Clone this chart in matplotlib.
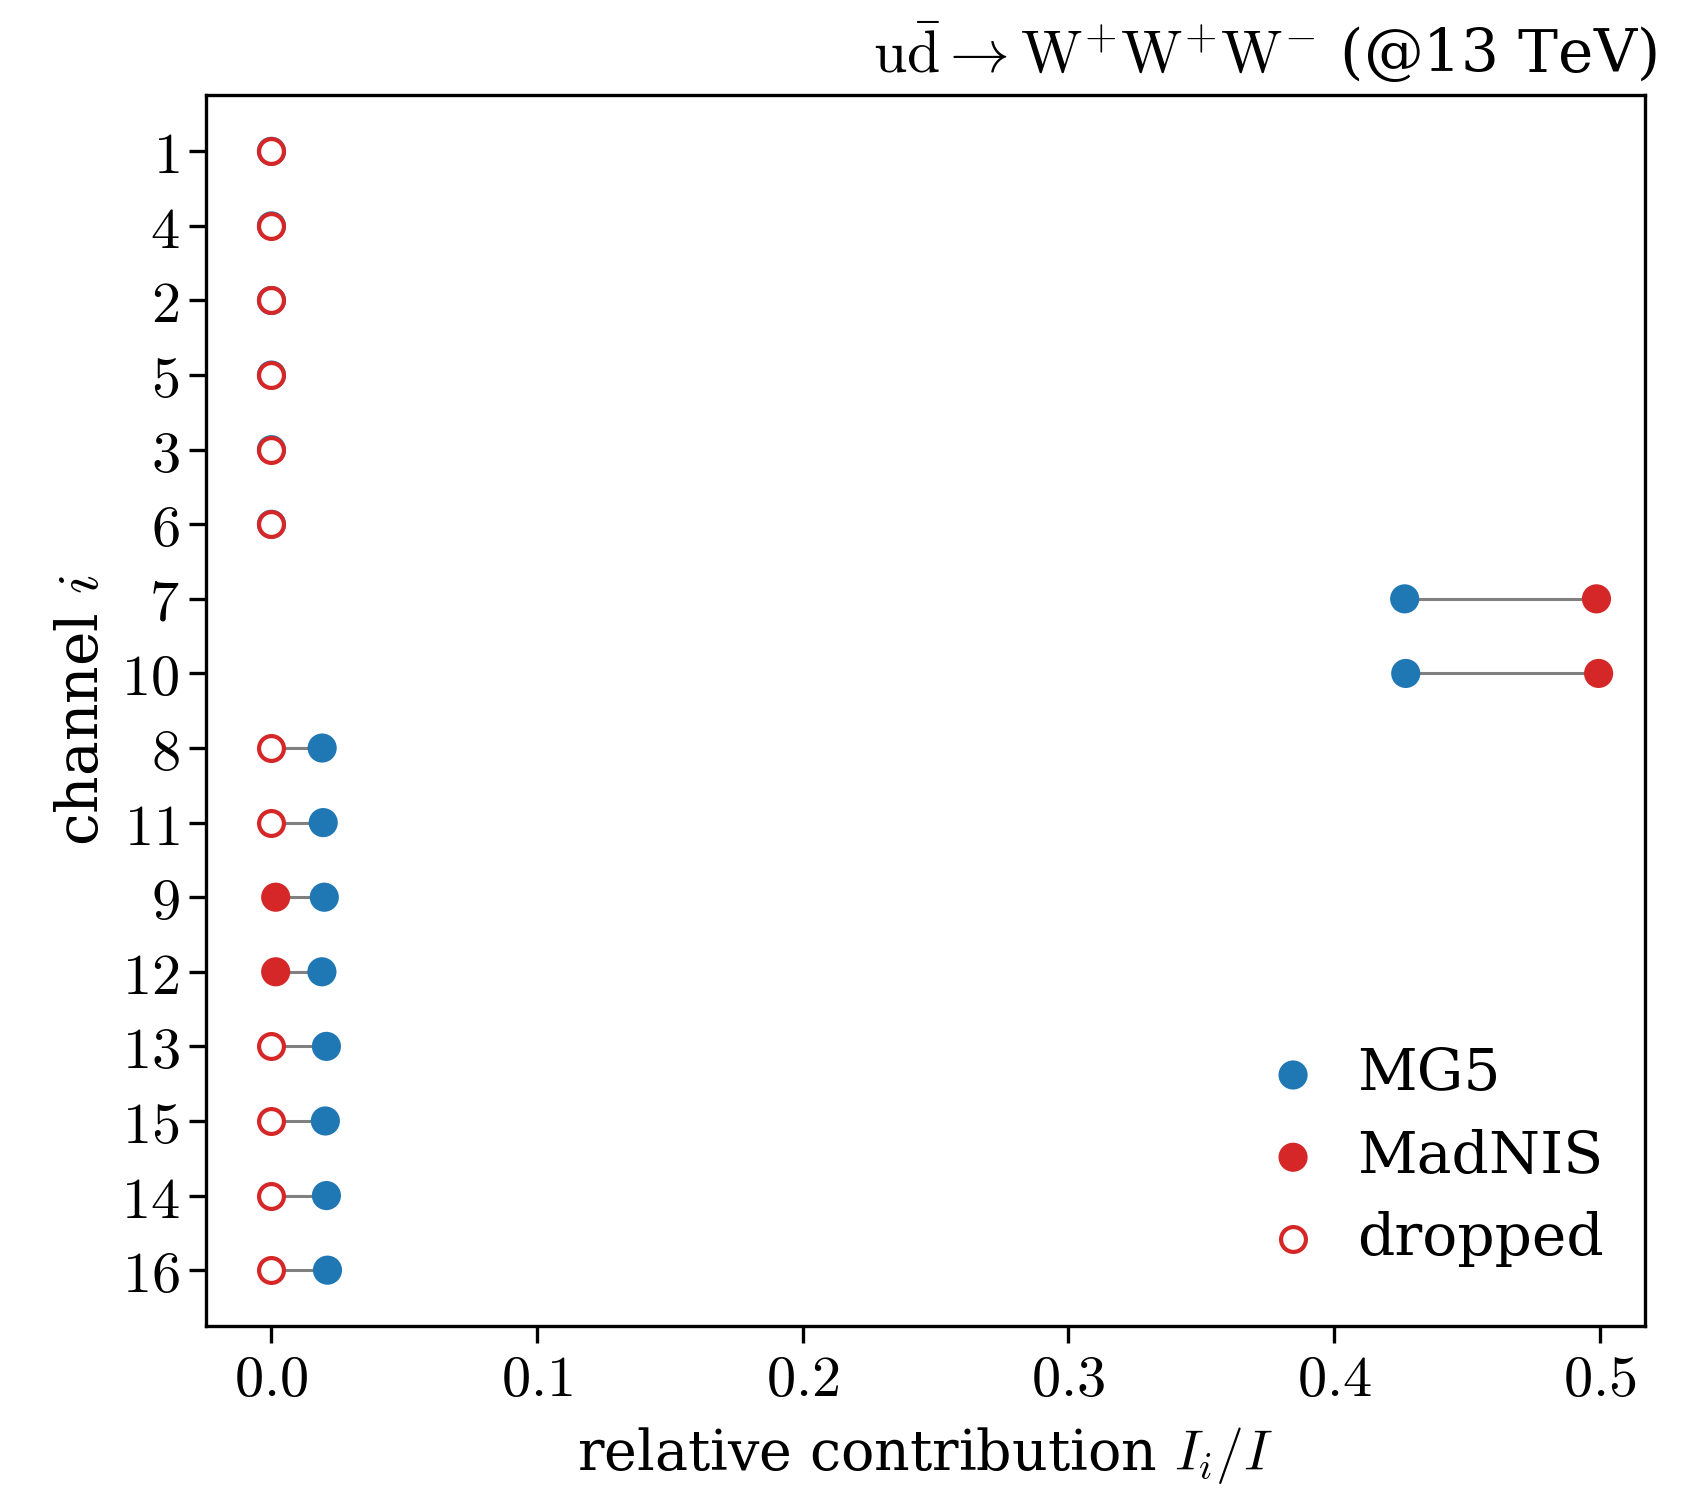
import matplotlib
matplotlib.use("Agg")
import matplotlib.pyplot as plt
from matplotlib.ticker import FuncFormatter

plt.rcParams['font.family'] = ['DejaVu Serif']
plt.rcParams['mathtext.fontset'] = 'cm'

# channel order as shown top to bottom
channels = [1, 4, 2, 5, 3, 6, 7, 10, 8, 11, 9, 12, 13, 15, 14, 16]
mg5 = [0.0, 0.0, 0.0, 0.0, 0.0, 0.0, 0.4266, 0.427, 0.0191, 0.0195, 0.0199, 0.019,
       0.0207, 0.0203, 0.0207, 0.0211]
madnis = [0.0, 0.0, 0.0, 0.0, 0.0, 0.0, 0.4988, 0.4996, 0.0, 0.0, 0.0016, 0.0016,
          0.0, 0.0, 0.0, 0.0]
dropped = [True, True, True, True, True, True, False, False, True, True, False, False,
           True, True, True, True]

blue = '#1f77b4'
red = '#d62728'

fig, ax = plt.subplots(figsize=(8.435, 7.45), dpi=200)

pos = list(range(len(channels)))
for i in pos:
    ax.plot([mg5[i], madnis[i]], [i, i], color='gray', lw=1.1, zorder=1)

ax.scatter(mg5, pos, s=110, color=blue, edgecolor='none', zorder=2, label='MG5')
kept = [i for i in pos if not dropped[i]]
drop = [i for i in pos if dropped[i]]
ax.scatter([madnis[i] for i in kept], kept, s=110, color=red, edgecolor='none',
           zorder=3, label='MadNIS')
ax.scatter([madnis[i] for i in drop], drop, s=80, facecolor='white', edgecolor=red,
           linewidths=1.5, zorder=3, label='dropped')

ax.set_yticks(pos)
ax.set_yticklabels(['$%d$' % c for c in channels])
ax.set_ylim(15.75, -0.75)
ax.set_xlim(-0.0247, 0.517)
ax.set_xticks([0.0, 0.1, 0.2, 0.3, 0.4, 0.5])
ax.xaxis.set_major_formatter(FuncFormatter(lambda v, p: '$%.1f$' % v))
ax.tick_params(labelsize=21, length=6, width=1.2)
for s in ax.spines.values():
    s.set_linewidth(1.2)

ax.set_xlabel('relative contribution $I_i/I$', fontsize=20, labelpad=6)
ax.set_ylabel('channel $i$', fontsize=21)
ax.set_title(r'$\mathrm{u\bar{d}}\rightarrow\mathrm{W}^{+}\mathrm{W}^{+}\mathrm{W}^{-}$ (@13 TeV)',
             loc='right', fontsize=21.5, x=1.008, pad=8)

ax.legend(loc='lower right', bbox_to_anchor=(1, 0.015), frameon=False, fontsize=21,
          handletextpad=0.3, handlelength=1.6, labelspacing=0.45,
          borderaxespad=0.5, borderpad=0.2)

fig.subplots_adjust(left=0.122, right=0.975, top=0.936, bottom=0.11)
fig.savefig('out.png', dpi=200)
